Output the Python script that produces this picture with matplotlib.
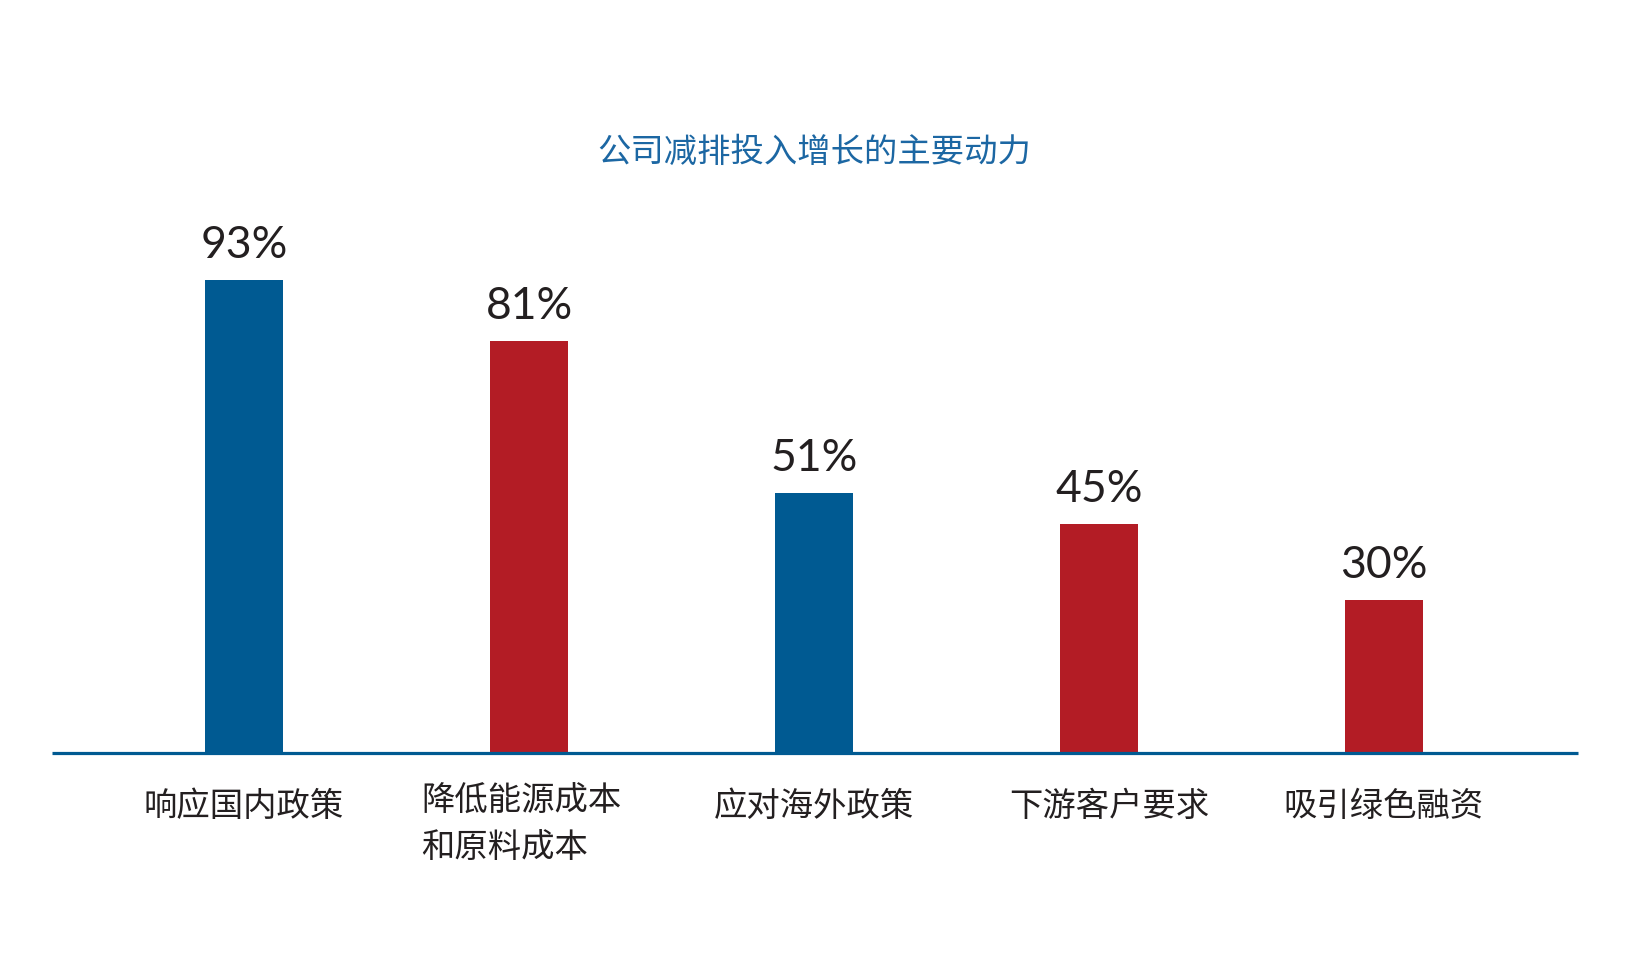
import matplotlib
matplotlib.use("Agg")
import matplotlib.pyplot as plt
import matplotlib.transforms as mtransforms

plt.rcParams['font.family'] = ['Noto Sans CJK SC', 'DejaVu Sans']

title = "公司减排投入增长的主要动力"
categories = ["响应国内政策", "降低能源成本\n和原料成本", "应对海外政策", "下游客户要求", "吸引绿色融资"]
values = [93, 81, 51, 45, 30]
value_labels = ["93%", "81%", "51%", "45%", "30%"]
bar_colors = ["#005a92", "#b31c25", "#005a92", "#b31c25", "#b31c25"]

W, H = 1630, 955
fig = plt.figure(figsize=(W / 100, H / 100), dpi=100)
ax_left, ax_right = 52, 1578
ax_bottom_px = 753
ax_top_px = 753 - 509
ax = fig.add_axes([ax_left / W, 1 - ax_bottom_px / H, (ax_right - ax_left) / W, (ax_bottom_px - ax_top_px) / H])

x = list(range(len(categories)))
bars = ax.bar(x, values, width=0.274, color=bar_colors, zorder=2)
ax.set_xlim(-0.674, 4.681)
ax.set_ylim(0, 100)
for s in ["top", "right", "left"]:
    ax.spines[s].set_visible(False)
ax.spines["bottom"].set_color("#005a92")
ax.spines["bottom"].set_linewidth(2.3)
ax.spines["bottom"].set_capstyle("butt")
ax.spines["bottom"].set_zorder(3)
ax.set_yticks([])
ax.set_xticks([])

# value labels
for b, lab in zip(bars, value_labels):
    ax.annotate(lab, (b.get_x() + b.get_width() / 2, b.get_height()),
                xytext=(0, 14), textcoords="offset pixels",
                ha="center", va="bottom", fontsize=32, color="#231f20",
                family=["Lato", "DejaVu Sans"], fontweight="normal")

# category labels (small horizontal nudges as in the original layout)
label_nudge = [0.0, -0.377, 0.0, 0.036, 0.0]
trans = mtransforms.blended_transform_factory(ax.transData, fig.transFigure)
for xi, cat, dx in zip(x, categories, label_nudge):
    lines = cat.split("\n")
    if len(lines) == 1:
        ax.text(xi + dx, 1 - 806 / H, cat, transform=trans, ha="center", va="center",
                fontsize=24, color="#231f20", fontweight="light")
    else:
        for j, ln in enumerate(lines):
            ax.text(xi + dx, 1 - (801 + 46 * j) / H, ln, transform=trans,
                    ha="left", va="center", fontsize=24, color="#231f20",
                    fontweight="light")

fig.text(814 / W, 1 - 152 / H, title, ha="center", va="center",
         fontsize=24, color="#1c67a3", fontweight="light")

fig.savefig("out.png", dpi=100, facecolor="white")
